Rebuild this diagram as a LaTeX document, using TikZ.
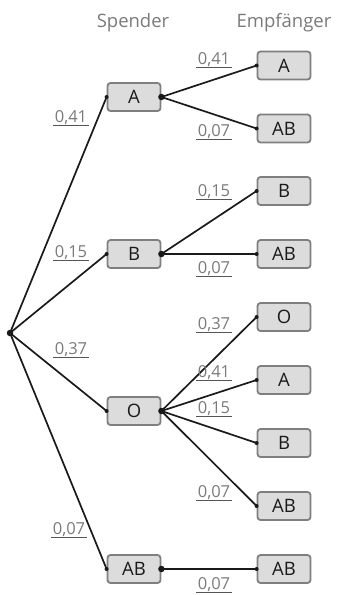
\documentclass[tikz,border=0pt]{standalone}
\usepackage{fontspec}
\setmainfont{Open Sans}
\definecolor{txtgray}{HTML}{7A7A7A}
\definecolor{boxfill}{HTML}{DCDCDC}
\definecolor{boxline}{HTML}{7F7F7F}
\definecolor{ink}{HTML}{1A1A1A}
\begin{document}
\begin{tikzpicture}[x=1pt,y=-1pt,
  bx/.style={draw=boxline,fill=boxfill,line width=1.8pt,rounded corners=3pt,minimum width=53pt,minimum height=28pt,inner sep=0pt,font=\fontsize{18.5}{20}\selectfont,text=ink},
  hdr/.style={font=\fontsize{18.5}{20}\selectfont,text=txtgray},
  prob/.style={font=\fontsize{16.5}{18}\selectfont,text=txtgray,inner sep=0pt},
  ul/.style={draw=txtgray!70!black,line width=1.4pt},
  edge/.style={draw=ink,line width=1.7pt},
  dot/.style={circle,fill=ink,inner sep=0pt,minimum size=6.5pt},
  sdot/.style={circle,fill=ink,inner sep=0pt,minimum size=4pt}]
\useasboundingbox (0,0) rectangle (338,595);
\node[hdr] (h1) at (133,23) {Spender};
\node[hdr] (h2) at (284,23) {Empfänger};
\node[dot] (root) at (10,333) {};
% Spender
\node[bx] (sA) at (134,97) {A};
\node[bx] (sB) at (134,254) {B};
\node[bx] (sO) at (134,411) {O};
\node[bx] (sAB) at (134,569) {AB};
% Empfaenger
\node[bx] (eA1) at (284,65.5) {A};
\node[bx] (eAB1) at (284,128.5) {AB};
\node[bx] (eB2) at (284,191) {B};
\node[bx] (eAB2) at (284,254) {AB};
\node[bx] (eO3) at (284,317) {O};
\node[bx] (eA3) at (284,380) {A};
\node[bx] (eB3) at (284,443) {B};
\node[bx] (eAB3) at (284,506) {AB};
\node[bx] (eAB4) at (284,569) {AB};
% first level
\foreach \s in {sA,sB,sO,sAB}{
  \draw[edge] (root.center) -- (\s.west);
  \node[sdot] at (\s.west) {};
}
% second level
\foreach \s/\e in {sA/eA1,sA/eAB1,sB/eB2,sB/eAB2,sO/eO3,sO/eA3,sO/eB3,sO/eAB3,sAB/eAB4}{
  \draw[edge] (\s.east) -- (\e.west);
  \node[sdot] at (\e.west) {};
}
\foreach \s in {sA,sB,sO,sAB}{ \node[dot] at (\s.east) {}; }
% labels
\foreach \n/\x/\y/\t in {l1/71/118/{0,41},l2/71/253/{0,15},l3/71/350/{0,37},l4/69/530/{0,07},
  m1/214/60/{0,41},m2/214/132/{0,07},m3/214/192/{0,15},m4/214/269/{0,07},m5/214/325/{0,37},
  m6/214/373/{0,41},m7/214/409/{0,15},m8/214/493/{0,07},m9/214/585/{0,07}}{
  \node[prob] (\n) at (\x,\y) {\t};
  \draw[ul] ([xshift=-1.5pt,yshift=0pt]\n.south west) -- ([xshift=1.5pt,yshift=0pt]\n.south east);
}
\end{tikzpicture}
\end{document}
